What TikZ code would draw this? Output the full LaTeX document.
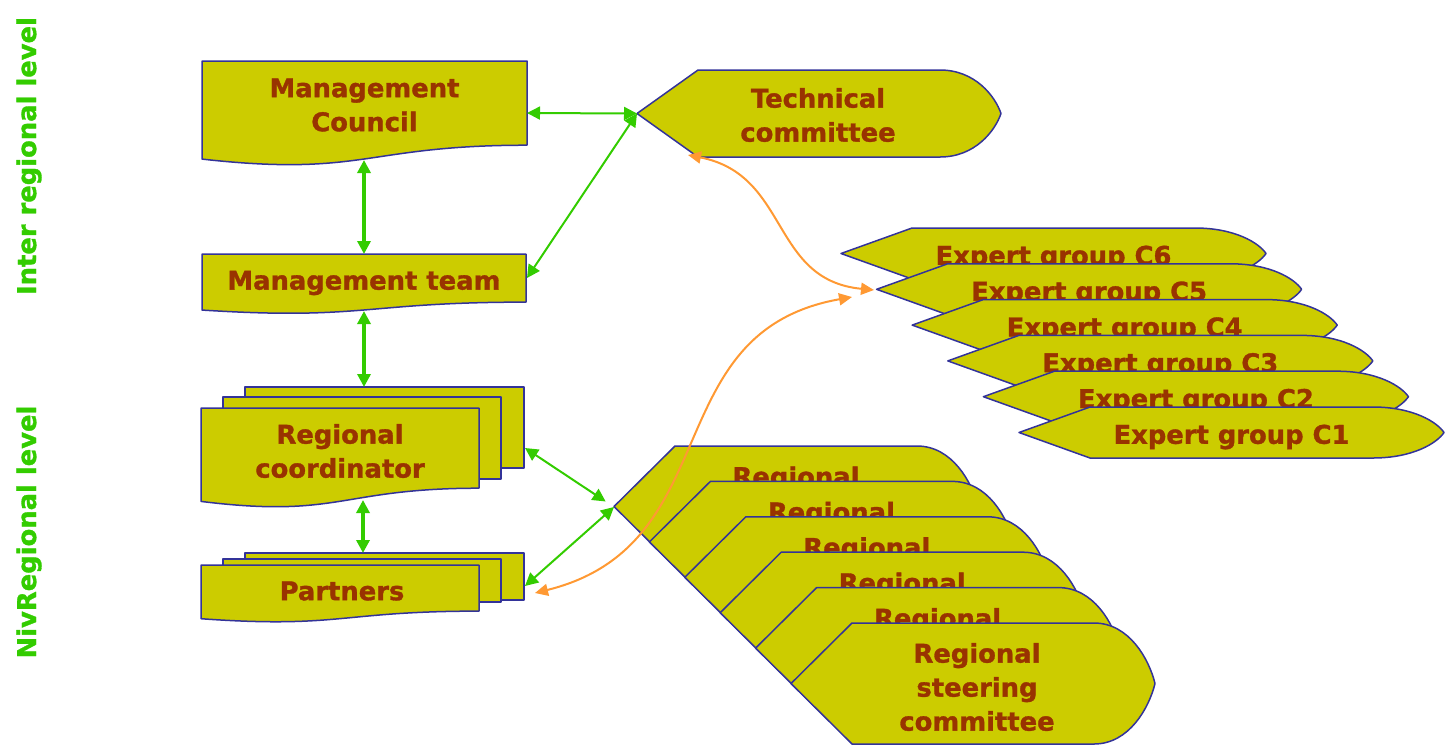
\documentclass[tikz,border=0pt]{standalone}
\usepackage{fontspec}
\setmainfont{DejaVu Sans}[BoldFeatures={FakeBold=1.2}]
\usetikzlibrary{arrows.meta}
\definecolor{YF}{RGB}{204,204,0}
\definecolor{NB}{RGB}{51,51,153}
\definecolor{BR}{RGB}{153,51,0}
\definecolor{GR}{RGB}{51,204,0}
\definecolor{OR}{RGB}{255,153,51}

\begin{document}
\begin{tikzpicture}[x=1pt, y=-1pt,
  flow/.style={draw=NB, fill=YF, line width=1.5pt, line join=round},
  txt/.style={text=BR, font=\fontsize{25.8}{34}\selectfont\bfseries,
              align=center, inner sep=0pt},
  lvl/.style={text=GR, font=\fontsize{25.8}{34}\selectfont\bfseries, rotate=90},
  arr/.style={{Triangle[length=13pt,width=13pt]}-{Triangle[length=13pt,width=13pt]},
              draw=GR, line width=2pt},
  varr/.style={arr, line width=3.5pt},
  carr/.style={{Triangle[length=13pt,width=12pt]}-{Triangle[length=13pt,width=12pt]},
               draw=OR, line width=2pt}
]
\useasboundingbox (0,0) rectangle (1447,748);

% level labels
\node[lvl] (interlvl) at (29,156) {Inter regional level};
\node[lvl] (nivlvl) at (29,532) {NivRegional level};

% stacked copies behind coordinator and partners
\foreach \x/\y/\w/\h in {245/387/279/81, 223/397/278/82, 245/553/279/47, 223/559/278/43}
  \draw[flow] (\x,\y) rectangle ++(\w,\h);

% document boxes
\foreach \x/\y/\w/\h in {202/61/325/105, 202/254/324/60, 201/408/278/100, 201/565/278/57.5}
  \draw[flow] (\x,\y) -- (\x+\w,\y) -- (\x+\w,\y+0.802*\h)
    .. controls (\x+0.5*\w,\y+0.802*\h) and (\x+0.5*\w,\y+1.107*\h) .. (\x,\y+0.934*\h) -- cycle;

\node[txt] (council) at (364.5,105) {Management\\Council};
\node[txt] (team) at (364,283) {Management team};
\node[txt] (coord) at (340,451) {Regional\\coordinator};
\node[txt] (partners) at (342,591) {Partners};

% technical committee
\draw[flow] (637,113.5) -- (698,70) -- (940,70) .. controls (975,70) and (995,96) .. (1001,113.5)
  .. controls (995,131) and (975,157) .. (940,157) -- (698,157) -- cycle;
\node[txt] (tech) at (818,115) {Technical\\committee};

% expert groups
\foreach \i/\lbl in {0/C6, 1/C5, 2/C4, 3/C3, 4/C2, 5/C1} {
  \pgfmathsetmacro\xa{841+35.6*\i}
  \pgfmathsetmacro\ya{228+35.8*\i}
  \draw[flow] (\xa,\ya+25.5) -- (\xa+71,\ya) -- (\xa+354,\ya)
    .. controls (\xa+394,\ya) and (\xa+418,\ya+15) .. (\xa+425,\ya+25.5)
    .. controls (\xa+418,\ya+36) and (\xa+394,\ya+51) .. (\xa+354,\ya+51) -- (\xa+71,\ya+51) -- cycle;
  \node[txt] (exp\lbl) at (\xa+212.5,\ya+30) {Expert group \lbl};
}

% regional steering committees
\foreach \i in {0,...,5} {
  \pgfmathsetmacro\xa{614+35.4*\i}
  \pgfmathsetmacro\ya{446+35.4*\i}
  \draw[flow] (\xa,\ya+60.5) -- (\xa+61,\ya) -- (\xa+303,\ya)
    .. controls (\xa+338,\ya) and (\xa+358,\ya+36) .. (\xa+364,\ya+60.5)
    .. controls (\xa+358,\ya+85) and (\xa+338,\ya+121) .. (\xa+303,\ya+121) -- (\xa+61,\ya+121) -- cycle;
  \ifnum\i<5
    \node[txt] (reg\i) at (\xa+182,\ya+33) {Regional};
  \fi
}
\node[txt] (regfront) at (977,687) {Regional\\steering\\committee};

% anchors
\coordinate (council-e) at (527,113);
\coordinate (council-s) at (364,160);
\coordinate (team-n) at (364,254);
\coordinate (team-e) at (527,278);
\coordinate (team-s) at (364,311);
\coordinate (coord-n) at (364,387);
\coordinate (coord-e) at (525,448);
\coordinate (coord-s) at (363,500);
\coordinate (partners-n) at (363,553);
\coordinate (partners-e) at (525,586);
\coordinate (partners-out) at (535,593);
\coordinate (tech-w) at (637,113.5);
\coordinate (tech-sw) at (688,155);
\coordinate (reg-w) at (614,507);
\coordinate (c5-w) at (874,290);
\coordinate (exp-in) at (852,297);

% links
\draw[arr] (council-e) -- (tech-w);
\draw[arr] (team-e) -- (tech-w);
\draw[varr] (council-s) -- (team-n);
\draw[varr] (team-s) -- (coord-n);
\draw[varr] (coord-s) -- (partners-n);
\draw[arr, shorten >=10pt] (coord-e) -- (reg-w);
\draw[arr] (partners-e) -- (reg-w);
\draw[carr] (tech-sw) .. controls (790,175) and (770,280) .. (c5-w);
\draw[carr] (partners-out) .. controls (729,545) and (655,332) .. (exp-in);
\end{tikzpicture}
\end{document}
